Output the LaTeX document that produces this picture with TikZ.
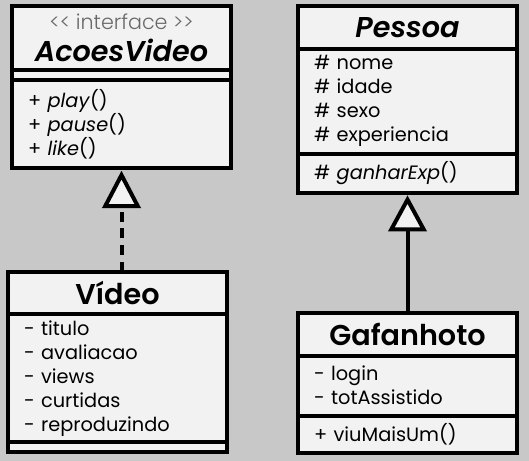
\documentclass[tikz,border=0pt]{standalone}
\usepackage{fontspec}
\setmainfont{Poppins}[BoldFont={Poppins SemiBold}, BoldItalicFont={Poppins SemiBold Italic}]
\newfontfamily\lightfont{Poppins Light}
\usetikzlibrary{arrows.meta, positioning}

\definecolor{bggray}{RGB}{200,200,200}
\definecolor{boxfill}{RGB}{242,242,242}
\definecolor{stereogray}{RGB}{105,105,105}

\begin{document}
\begin{tikzpicture}[
    x=0.75pt, y=-0.75pt,
    compart/.style={rectangle, draw=black, line width=3pt, fill=boxfill, minimum width=164.25pt, inner sep=0pt, outer sep=0pt},
    classname/.style={compart, minimum height=32pt, align=center, font=\fontsize{21.5}{24}\selectfont\bfseries},
    members/.style={compart, minimum height=#1, text width=140.25pt, align=left, font=\fontsize{14.5}{18}\selectfont},
    realize/.style={line width=3pt, dash pattern=on 7.5pt off 5pt, shorten >=2pt, -{Triangle[length=28pt, width=28.5pt, fill=boxfill]}},
    inherit/.style={line width=3pt, shorten >=2pt, -{Triangle[length=27pt, width=28.5pt, fill=boxfill]}}
]

\useasboundingbox (0,0) rectangle (529,461);
\fill[bggray] (0,0) rectangle (529,461);

% Interface AcoesVideo
\node[classname, minimum height=48pt, anchor=north] (atitle) at (121.5,6) {{\fontsize{15.5}{16}\lightfont\mdseries\upshape\color{stereogray}<{}< interface >{}>}\\ \itshape AcoesVideo};
\node[compart, minimum height=7.5pt, below=0pt of atitle] (aattrs) {};
\node[members=66pt, below=0pt of aattrs] (amethods) {+ \textit{play}()\\+ \textit{pause}()\\+ \textit{like}()};

% Pessoa
\node[classname, anchor=north] (ptitle) at (407.5,6) {\itshape Pessoa};
\node[members=78.75pt, below=0pt of ptitle] (pattrs) {\# nome\\\# idade\\\# sexo\\\# experiencia};
\node[members=29.25pt, below=0pt of pattrs] (pmethods) {\# \textit{ganharExp}()};

% Video
\node[classname, anchor=north] (vtitle) at (117.5,271.5) {Vídeo};
\node[members=96pt, below=0pt of vtitle] (vattrs) {- titulo\\- avaliacao\\- views\\- curtidas\\- reproduzindo};
\node[compart, minimum height=7.5pt, below=0pt of vattrs] (vmethods) {};

% Gafanhoto
\node[classname, anchor=north] (gtitle) at (407.5,313) {Gafanhoto};
\node[members=45pt, below=0pt of gtitle] (gattrs) {- login\\- totAssistido};
\node[members=27.75pt, below=0pt of gattrs] (gmethods) {+ viuMaisUm()};

% Relations
\draw[realize] (vtitle.north -| amethods.south) -- (amethods.south);
\draw[inherit] (gtitle.north) -- (pmethods.south);

\end{tikzpicture}
\end{document}
